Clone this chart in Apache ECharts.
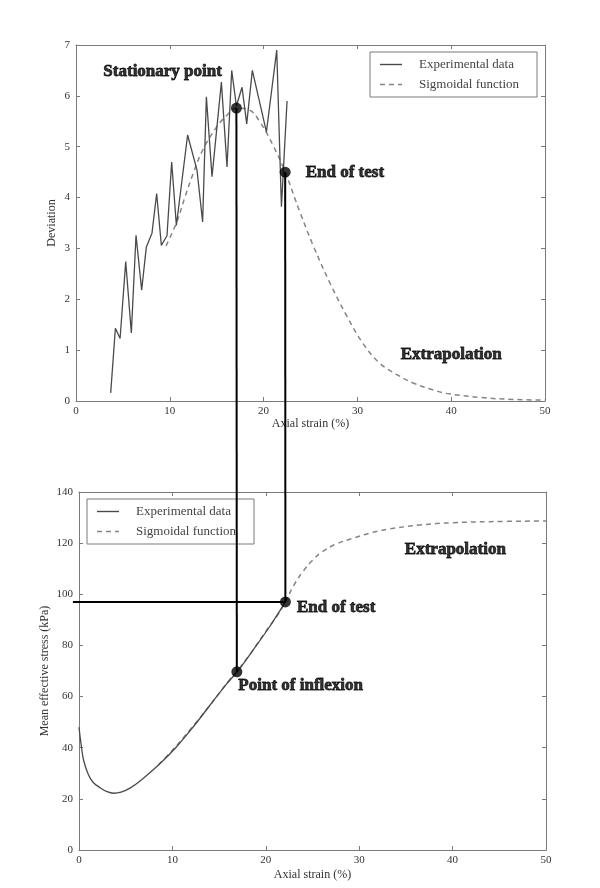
<!DOCTYPE html>
<html>
<head>
<meta charset="utf-8">
<script src="https://cdn.jsdelivr.net/npm/echarts@6/dist/echarts.min.js"></script>
<style>
  html, body { margin: 0; padding: 0; background: #fff; }
  #chart { width: 600px; height: 888px; }
</style>
</head>
<body>
<div id="chart"></div>
<script>
// Axial strain (%) against deviation: measured zig-zag and fitted bell curve
const deviationExperimental = [
  [3.7, 0.16], [4.2, 1.43], [4.7, 1.23], [5.3, 2.74], [5.9, 1.34], [6.4, 3.26],
  [7.0, 2.18], [7.5, 3.03], [8.1, 3.3], [8.6, 4.08], [9.1, 3.06], [9.7, 3.25],
  [10.2, 4.7], [10.7, 3.45], [11.9, 5.23], [12.9, 4.54], [13.5, 3.52], [13.9, 5.98],
  [14.5, 4.41], [15.5, 6.27], [16.1, 4.6], [16.6, 6.5], [17.1, 5.8], [17.7, 6.17],
  [18.2, 5.45], [18.8, 6.5], [20.3, 5.29], [21.4, 6.9], [21.9, 3.82], [22.5, 5.9]
];
const deviationSigmoid = [
  [9.6, 3.05], [10.7, 3.5], [11.6, 4.0], [12.5, 4.48], [13.5, 4.93], [15.0, 5.39],
  [16.1, 5.62], [17.1, 5.76], [18.5, 5.72], [19.6, 5.49], [21.0, 5.03], [22.3, 4.5],
  [23.9, 3.7], [25.3, 3.05], [27.1, 2.31], [28.9, 1.66], [30.6, 1.13], [32.4, 0.74],
  [34.2, 0.52], [36.0, 0.35], [37.7, 0.24], [39.5, 0.15], [43.1, 0.07], [46.6, 0.03],
  [50.0, 0.02]
];

// Axial strain (%) against mean effective stress (kPa)
const stressExperimental = [
  [0, 48], [0.2, 42], [0.5, 35], [1.0, 29.5], [1.5, 26.5], [2.2, 24.5], [3.0, 22.8],
  [3.7, 22.2], [4.5, 22.6], [5.5, 24.3], [6.8, 27.8], [8.6, 33.5], [10.4, 40.2],
  [12.2, 48], [14.0, 56.5], [15.7, 64.5], [17.0, 70], [18.6, 78], [20.4, 87.3], [22.1, 97]
];
const stressSigmoid = [
  [8.5, 33.3], [10.0, 39], [12.0, 47.5], [14.0, 56.5], [16.0, 66], [17.0, 70.3],
  [18.5, 77.5], [20.0, 85.5], [21.2, 91.5], [22.1, 97], [23.0, 103.5], [24.0, 109],
  [25.0, 113.3], [26.0, 116.5], [27.5, 119.6], [29.4, 122], [31.2, 124], [33.0, 125.4],
  [36.5, 127.1], [40.0, 128], [44.0, 128.4], [50.0, 128.7]
];

// Annotated points
const stationaryPoint = [17.1, 5.76];
const endOfTestDeviation = [22.3, 4.5];
const endOfTestStress = [22.1, 97];
const inflexionPoint = [16.9, 69.7];
const extrapolationDeviation = [40, 0.92];
const extrapolationStress = [40.3, 117.3];

// Axis ranges and tick steps
const strainRange = [0, 50, 10];
const deviationRange = [0, 7, 1];
const stressRange = [0, 140, 20];

const legendNames = ['Experimental data', 'Sigmoidal function'];

const serif = "'Liberation Serif', 'DejaVu Serif', serif";
const frameColor = '#7a7a7a';
const expColor = '#4a4a4a';
const fitColor = '#858585';

// Legend keys: a thin solid stroke and a thin dashed stroke (spacer points keep the height)
const solidKey = 'path://M0,0L0,0M0,12L0,12M0,5.3H22V6.7H0Z';
const dashedKey = 'path://M0,0L0,0M0,12L0,12M0,5.3H5V6.7H0ZM9,5.3H14V6.7H9ZM18,5.3H22V6.7H18Z';

const noteLabel = {
  show: true,
  fontFamily: serif,
  fontWeight: 'bold',
  fontSize: 17,
  color: '#000',
  textBorderColor: '#000',
  textBorderWidth: 0.8
};

function mainX(gridIndex, name, gap) {
  return {
    type: 'value', gridIndex, min: strainRange[0], max: strainRange[1], interval: strainRange[2],
    name, nameLocation: 'middle', nameGap: gap,
    nameTextStyle: { fontFamily: serif, fontSize: 12, color: '#333' },
    axisLine: { show: true, onZero: false, lineStyle: { color: frameColor, width: 1 } },
    axisTick: { show: true, inside: true, length: 4, lineStyle: { color: frameColor } },
    axisLabel: { fontFamily: serif, fontSize: 11, color: '#333', margin: 5 },
    splitLine: { show: false }
  };
}
function mirrorX(gridIndex) {
  return {
    type: 'value', gridIndex, position: 'top', min: strainRange[0], max: strainRange[1], interval: strainRange[2],
    axisLine: { show: true, onZero: false, lineStyle: { color: frameColor, width: 1 } },
    axisTick: { show: true, inside: true, length: 4, lineStyle: { color: frameColor } },
    axisLabel: { show: false }, splitLine: { show: false }
  };
}
function mainY(gridIndex, range, name, gap) {
  return {
    type: 'value', gridIndex, min: range[0], max: range[1], interval: range[2],
    name, nameLocation: 'middle', nameGap: gap, nameMoveOverlap: false,
    nameTextStyle: { fontFamily: serif, fontSize: 12, color: '#333' },
    axisLine: { show: true, onZero: false, lineStyle: { color: frameColor, width: 1 } },
    axisTick: { show: true, inside: true, length: 4, lineStyle: { color: frameColor } },
    axisLabel: { fontFamily: serif, fontSize: 11, color: '#333', margin: 6 },
    splitLine: { show: false }
  };
}
function mirrorY(gridIndex, range) {
  return {
    type: 'value', gridIndex, position: 'right', min: range[0], max: range[1], interval: range[2],
    axisLine: { show: true, onZero: false, lineStyle: { color: frameColor, width: 1 } },
    axisTick: { show: true, inside: true, length: 4, lineStyle: { color: frameColor } },
    axisLabel: { show: false }, splitLine: { show: false }
  };
}

function legendBox(left, top) {
  return {
    left, top, orient: 'vertical',
    data: [
      { name: legendNames[0], icon: solidKey, itemStyle: { color: expColor } },
      { name: legendNames[1], icon: dashedKey, itemStyle: { color: fitColor } }
    ],
    padding: [6, 18, 6, 10],
    itemGap: 7, itemWidth: 22, itemHeight: 12,
    borderColor: frameColor, borderWidth: 1, borderRadius: 0,
    backgroundColor: '#fff',
    textStyle: { fontFamily: serif, fontSize: 13, color: '#444', padding: [0, 0, 0, 12] },
    selectedMode: false
  };
}

const chart = echarts.init(document.getElementById('chart'), null, { renderer: 'canvas' });

chart.setOption({
  animation: false,
  backgroundColor: '#fff',
  grid: [
    { left: 76, right: 55, top: 45, height: 356 },
    { left: 79, right: 54, top: 492, height: 358 }
  ],
  xAxis: [
    mainX(0, 'Axial strain (%)', 16),
    mirrorX(0),
    mainX(1, 'Axial strain (%)', 19),
    mirrorX(1)
  ],
  yAxis: [
    mainY(0, deviationRange, 'Deviation', 18),
    mirrorY(0, deviationRange),
    mainY(1, stressRange, 'Mean effective stress (kPa)', 28),
    mirrorY(1, stressRange)
  ],
  legend: [legendBox(370, 52), legendBox(87, 499)],
  series: [
    {
      name: legendNames[0], type: 'line', xAxisIndex: 0, yAxisIndex: 0,
      data: deviationExperimental, symbol: 'none', smooth: false,
      lineStyle: { color: expColor, width: 1.3 }, itemStyle: { color: expColor }, z: 3
    },
    {
      name: legendNames[1], type: 'line', xAxisIndex: 0, yAxisIndex: 0,
      data: deviationSigmoid, symbol: 'none', smooth: 0.4,
      lineStyle: { color: fitColor, width: 1.5, type: [5, 4] }, itemStyle: { color: fitColor }, z: 2
    },
    {
      name: legendNames[0], type: 'line', xAxisIndex: 2, yAxisIndex: 2,
      data: stressExperimental, symbol: 'none', smooth: 0.4,
      lineStyle: { color: expColor, width: 1.3 }, itemStyle: { color: expColor }, z: 3
    },
    {
      name: legendNames[1], type: 'line', xAxisIndex: 2, yAxisIndex: 2,
      data: stressSigmoid, symbol: 'none', smooth: 0.4,
      lineStyle: { color: fitColor, width: 1.5, type: [5, 4] }, itemStyle: { color: fitColor }, z: 2
    },
    {
      type: 'scatter', xAxisIndex: 0, yAxisIndex: 0, symbolSize: 11, z: 10,
      itemStyle: { color: '#000' },
      data: [
        { value: stationaryPoint, label: Object.assign({}, noteLabel, { formatter: 'Stationary point', position: 'left', offset: [-4, -36] }) },
        { value: endOfTestDeviation, label: Object.assign({}, noteLabel, { formatter: 'End of test', position: 'right', distance: 15 }) }
      ]
    },
    {
      type: 'scatter', xAxisIndex: 0, yAxisIndex: 0, symbolSize: 0, z: 10, silent: true,
      data: [{ value: extrapolationDeviation, label: Object.assign({}, noteLabel, { formatter: 'Extrapolation', position: 'inside' }) }]
    },
    {
      type: 'scatter', xAxisIndex: 2, yAxisIndex: 2, symbolSize: 11, z: 10,
      itemStyle: { color: '#000' },
      data: [
        { value: endOfTestStress, label: Object.assign({}, noteLabel, { formatter: 'End of test', position: 'right', distance: 6, offset: [0, 6] }) },
        { value: inflexionPoint, label: Object.assign({}, noteLabel, { formatter: 'Point of inflexion', position: 'right', distance: -4, offset: [0, 14] }) }
      ]
    },
    {
      type: 'scatter', xAxisIndex: 2, yAxisIndex: 2, symbolSize: 0, z: 10, silent: true,
      data: [{ value: extrapolationStress, label: Object.assign({}, noteLabel, { formatter: 'Extrapolation', position: 'inside' }) }]
    }
  ]
});

// Guide lines joining the annotated points of both panels
function toPx(seriesIndex, point) {
  return chart.convertToPixel({ seriesIndex }, point);
}
const pStat = toPx(0, stationaryPoint);
const pInfl = toPx(2, inflexionPoint);
const pEndTop = toPx(0, endOfTestDeviation);
const pEndBottom = toPx(2, endOfTestStress);
const pStressLeft = toPx(2, [strainRange[0] - 0.65, endOfTestStress[1]]);

const guide = { stroke: '#000', lineWidth: 2 };
chart.setOption({
  graphic: [
    { type: 'line', z: 8, silent: true, shape: { x1: pStat[0], y1: pStat[1], x2: pInfl[0], y2: pInfl[1] }, style: guide },
    { type: 'line', z: 8, silent: true, shape: { x1: pEndTop[0], y1: pEndTop[1], x2: pEndBottom[0], y2: pEndBottom[1] }, style: guide },
    { type: 'line', z: 8, silent: true, shape: { x1: pStressLeft[0], y1: pStressLeft[1], x2: pEndBottom[0], y2: pEndBottom[1] }, style: guide }
  ]
});
</script>
</body>
</html>
